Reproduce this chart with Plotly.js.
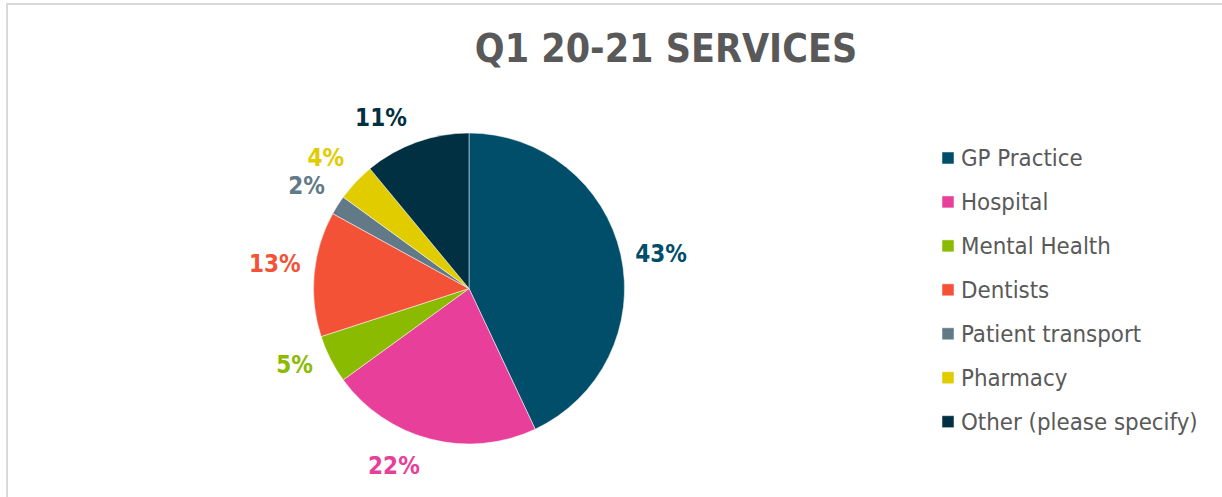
<!DOCTYPE html>
<html>
<head>
<meta charset="utf-8">
<script src="https://cdn.plot.ly/plotly-3.0.1.min.js"></script>
<style>
  html, body { margin: 0; padding: 0; background: #ffffff; }
  #wrap { position: relative; width: 1222px; height: 497px; overflow: hidden; }
  #chart { position: absolute; left: 0; top: 0; width: 1222px; height: 497px; }
  #frame { position: absolute; left: 6px; top: 3px; width: 1220px; height: 500px;
           border-left: 2px solid #d9d9d9; border-top: 2px solid #d9d9d9; pointer-events: none; }
  .pielayer path.textline { display: none !important; }
  .legend .legendpoints { transform: translate(7px, 0px); }
</style>
</head>
<body>
<div id="wrap">
  <div id="chart"></div>
  <div id="frame"></div>
</div>
<script>
const categories = ['GP Practice', 'Hospital', 'Mental Health', 'Dentists', 'Patient transport', 'Pharmacy', 'Other (please specify)'];
const values = [43, 22, 5, 13, 2, 4, 11];
const colors = ['#004e6a', '#e8409a', '#8abb00', '#f35237', '#627a88', '#e1cc00', '#003041'];
const chartTitle = 'Q1 20-21 SERVICES';

const FONT = '"DejaVu Sans Condensed", "Liberation Sans", sans-serif';

// legend text: smaller glyphs inside a taller legend row
const legendLabels = categories.map(c =>
  '<span style="font-size:23.8px;baseline-shift:4px">' + c + '</span>');

// invisible spacers used only to nudge the outside percentage labels
function sp(size, shift) {
  return '<span style="font-size:' + size + 'px;baseline-shift:' + (shift || 0) + 'px">\u00A0</span>';
}
const labelTemplates = [
  sp(23.6) + '%{value}%' + sp(23.6),                 // GP Practice
  sp(32, 6.25) + '%{value}%',                        // Hospital
  sp(29) + '%{value}%' + sp(29),                     // Mental Health
  sp(36, -17.65) + sp(5) + '%{value}%' + sp(5),      // Dentists
  sp(40, -20.7) + '%{value}%',                       // Patient transport
  sp(30, 5.9) + sp(4.6) + '%{value}%' + sp(4.6),     // Pharmacy
  sp(8) + '%{value}%' + sp(8)                        // Other
];

const trace = {
  type: 'pie',
  labels: legendLabels,
  values: values,
  sort: false,
  direction: 'clockwise',
  rotation: 0,
  marker: { colors: colors, line: { color: '#ffffff', width: 0.5 } },
  textposition: 'outside',
  texttemplate: labelTemplates,
  outsidetextfont: { family: FONT, size: 24, color: colors, weight: 'bold' },
  hoverinfo: 'label+percent',
  domain: { x: [313.5 / 1222, 624.5 / 1222], y: [53 / 497, 364 / 497] },
  automargin: false
};

const layout = {
  width: 1222,
  height: 497,
  margin: { l: 0, r: 0, t: 0, b: 0 },
  paper_bgcolor: '#ffffff',
  title: {
    text: chartTitle,
    font: { family: FONT, size: 39, color: '#595959', weight: 'bold' },
    x: 666 / 1222, xanchor: 'center', xref: 'paper',
    y: 1 - 48 / 497, yanchor: 'middle', yref: 'container'
  },
  showlegend: true,
  legend: {
    x: 921 / 1222, xanchor: 'left',
    y: 1 - 131 / 497, yanchor: 'top',
    font: { family: FONT, size: 31.5, color: '#595959' },
    bgcolor: 'rgba(0,0,0,0)',
    traceorder: 'normal'
  }
};

Plotly.newPlot('chart', [trace], layout, { displayModeBar: false, staticPlot: true });
</script>
</body>
</html>
